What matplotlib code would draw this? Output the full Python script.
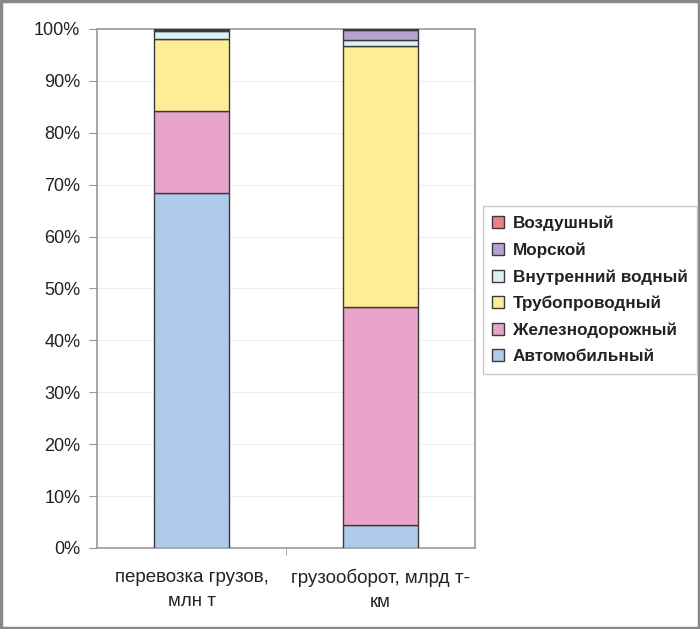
import numpy as np
import matplotlib
matplotlib.use("Agg")
import matplotlib.pyplot as plt
from matplotlib.patches import Rectangle
from matplotlib.ticker import PercentFormatter

plt.rcParams['font.family'] = ['Liberation Sans', 'DejaVu Sans']

categories = ["перевозка грузов,\nмлн т", "грузооборот, млрд т-\nкм"]
modes = ["Автомобильный", "Железнодорожный", "Трубопроводный",
         "Внутренний водный", "Морской", "Воздушный"]
# shares, %
avto = [68.4, 4.4]
zhd = [15.8, 42.0]
truba = [13.9, 50.3]
vnutr = [1.5, 1.1]
morskoy = [0.3, 2.1]
vozd = [0.1, 0.1]
colors = ["#aecbeb", "#e8a4c9", "#fdee96", "#ddf2f5", "#b4a2d0", "#f08080"]

series = [avto, zhd, truba, vnutr, morskoy, vozd]

fig = plt.figure(figsize=(7, 6.29), dpi=100)
ax = fig.add_axes([0.1386, 0.1288, 0.54, 0.8251])

x = np.arange(len(categories))
bottom = np.zeros(len(categories))
bars = []
for vals, name, c in zip(series, modes, colors):
    b = ax.bar(x, vals, width=0.4, bottom=bottom, color=c, edgecolor="#3a3a3a",
               linewidth=1.0, label=name, zorder=3)
    bars.append(b)
    bottom += np.array(vals)

ax.set_xlim(-0.5, 1.5)
ax.set_ylim(0, 100)
ax.set_yticks(np.arange(0, 101, 10))
ax.yaxis.set_major_formatter(PercentFormatter(decimals=0))
ax.set_xticks(x)
ax.set_xticklabels(categories, fontsize=13.5, color="#222222", linespacing=1.55)
ax.set_xticks([0.5], minor=True)
ax.tick_params(axis="x", which="major", length=0, pad=15)
ax.tick_params(axis="x", which="minor", length=5, color="#999999")
ax.tick_params(axis="y", labelsize=13, labelcolor="#222222", length=6,
               color="#999999", pad=6)
ax.grid(axis="y", color="#eeeeee", linewidth=0.8, zorder=0)
for s in ax.spines.values():
    s.set_color("#999999")
    s.set_linewidth(1.2)

handles = bars[::-1]
labels = modes[::-1]
leg = fig.legend(handles, labels, loc="center left",
                 bbox_to_anchor=(0.69, 0.539), frameon=True, fancybox=False,
                 prop={"weight": "bold", "size": 12.3}, handlelength=0.7,
                 handleheight=0.7, handletextpad=0.5, labelspacing=0.66,
                 borderpad=0.55, borderaxespad=0, edgecolor="#bbbbbb")
leg.get_frame().set_linewidth(1.0)
for t in leg.get_texts():
    t.set_color("#222222")

fig.patches.append(Rectangle((0.002, 0.002), 0.996, 0.996, transform=fig.transFigure,
                             fill=False, edgecolor="#888888", linewidth=2.5))

fig.savefig("out.png", dpi=100)
